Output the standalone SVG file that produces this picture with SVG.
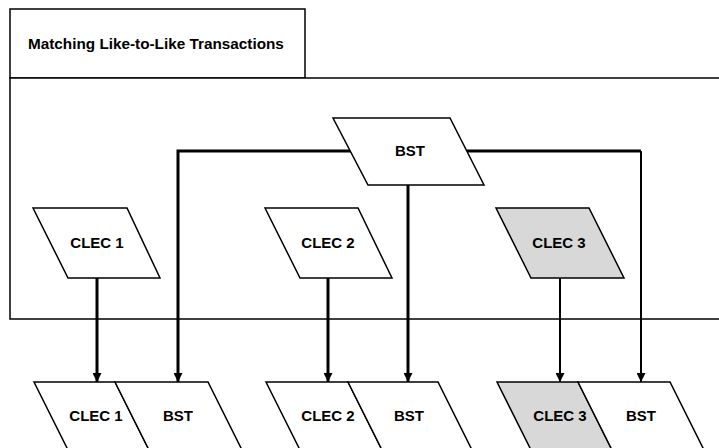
<svg xmlns="http://www.w3.org/2000/svg" width="719" height="448" viewBox="0 0 719 448">
<style>
.box{fill:#fff;stroke:#000;stroke-width:1.5}
.shape{fill:#fff;stroke:#000;stroke-width:1.5;stroke-linejoin:miter}
.grey{fill:#d8d8d8}
.lbl{font-family:"Liberation Sans",Arial,sans-serif;font-weight:bold;font-size:15px;text-anchor:middle;fill:#000}
.title{font-family:"Liberation Sans",Arial,sans-serif;font-weight:bold;font-size:15.3px;fill:#000}
.thick{fill:none;stroke:#000;stroke-width:3}
.thin{fill:none;stroke:#000;stroke-width:2}
</style>
<defs>
<marker id="ah" viewBox="0 0 10 10" refX="10" refY="5" markerWidth="9" markerHeight="9" markerUnits="userSpaceOnUse" orient="auto">
<path d="M0,0 L10,5 L0,10 Z" fill="#000"/>
</marker>
</defs>
<rect width="719" height="448" fill="#fff"/>
<g id="title-box">
<rect class="box" x="10" y="9" width="295" height="69"/>
<text class="title" x="28" y="49">Matching Like-to-Like Transactions</text>
</g>
<g id="frame">
<path class="box" d="M722,78 L10,78 L10,319 L722,319"/>
</g>
<g id="connectors">
<path class="thick" d="M351,151 L178,151 L178,382" marker-end="url(#ah)"/>
<path class="thick" d="M467,151 L641,151"/>
<path class="thin" d="M641,151 L641,382" marker-end="url(#ah)"/>
<path class="thick" d="M408,185 L408,382" marker-end="url(#ah)"/>
<path class="thick" d="M97,278 L97,382" marker-end="url(#ah)"/>
<path class="thick" d="M328,278 L328,382" marker-end="url(#ah)"/>
<path class="thin" d="M560,278 L560,382" marker-end="url(#ah)"/>
</g>
<g id="bst-top">
<polygon class="shape" points="333,118 450,118 484,185 368,185"/>
<text class="lbl" x="410" y="156">BST</text>
</g>
<g id="clec1-top">
<polygon class="shape" points="33,208 127,208 160,278 68,278"/>
<text class="lbl" x="97" y="248">CLEC 1</text>
</g>
<g id="clec2-top">
<polygon class="shape" points="265,208 358,208 392,278 300,278"/>
<text class="lbl" x="328" y="248">CLEC 2</text>
</g>
<g id="clec3-top">
<polygon class="shape grey" points="496,208 589,208 624,278 531,278"/>
<text class="lbl" x="559" y="248">CLEC 3</text>
</g>
<g id="clec1-bottom">
<polygon class="shape" points="34,382 115,382 150,452 69,452"/>
<text class="lbl" x="96" y="421">CLEC 1</text>
</g>
<g id="bst1-bottom">
<polygon class="shape" points="115,382 208,382 243,452 150,452"/>
<text class="lbl" x="178" y="421">BST</text>
</g>
<g id="clec2-bottom">
<polygon class="shape" points="266,382 348,382 383,452 301,452"/>
<text class="lbl" x="328" y="421">CLEC 2</text>
</g>
<g id="bst2-bottom">
<polygon class="shape" points="348,382 438,382 473,452 383,452"/>
<text class="lbl" x="409" y="421">BST</text>
</g>
<g id="clec3-bottom">
<polygon class="shape grey" points="497,382 578,382 613,452 532,452"/>
<text class="lbl" x="560" y="421">CLEC 3</text>
</g>
<g id="bst3-bottom">
<polygon class="shape" points="578,382 670,382 705,452 613,452"/>
<text class="lbl" x="641" y="421">BST</text>
</g>
</svg>
